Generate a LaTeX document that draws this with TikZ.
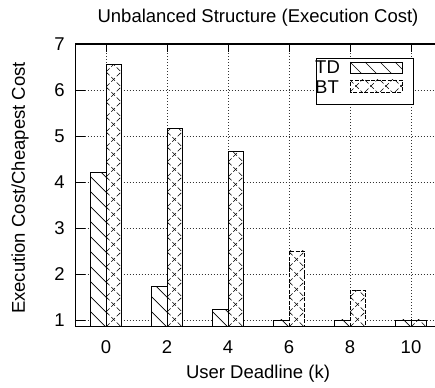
\documentclass[tikz,border=0pt]{standalone}
\usepackage{fontspec}
\setmainfont{Liberation Sans}
\tikzset{
  gridline/.style={line width=0.7pt, dash pattern=on 1pt off 2pt, black!80},
  frameline/.style={line width=1.2pt},
  barline/.style={line width=0.9pt},
  dashbar/.style={line width=0.9pt, dash pattern=on 4pt off 1.5pt},
  hatch/.style={line width=0.6pt},
  xhatch/.style={line width=0.55pt, dash pattern=on 5pt off 2.5pt},
  lbl/.style={font=\fontsize{18.5}{21}\selectfont, inner sep=0pt},
}
\newcommand\tdbar[2]{%
  \begin{scope}[shift={(#1-0.5,0.85)}, x=1pt, y=1pt]
    \pgfmathsetmacro\barH{(#2-0.85)*46}
    \fill[white] (0,0) rectangle (15.25,\barH);
    \begin{scope}
      \clip (0,0) rectangle (15.25,\barH);
      \foreach \i in {0,...,20} \draw[hatch] (0,\i*15) -- ++(20,-20);
    \end{scope}
    \draw[barline] (0,0) rectangle (15.25,\barH);
  \end{scope}}
\newcommand\btbar[3]{%
  \begin{scope}[shift={(#1,0.85)}, x=1pt, y=1pt]
    \pgfmathsetmacro\barH{(#2-0.85)*46}
    \fill[white] (0,0) rectangle (15.25,\barH);
    \begin{scope}
      \clip (0,0) rectangle (15.25,\barH);
      \foreach \i in {0,...,20} {
        \draw[xhatch] (0,\i*15) -- ++(15.25,-15);
        \draw[xhatch] (0,\i*15) -- ++(15.25,15);
      }
    \end{scope}
    \draw[#3] (0,0) rectangle (15.25,\barH);
  \end{scope}}
\begin{document}
\begin{tikzpicture}[x=1pt,y=1pt]
\useasboundingbox (0,0) rectangle (435,387);
\clip (0,0) rectangle (435,387);
\fill[white] (0,0) rectangle (435,387);
\begin{scope}[shift={(106,21)}, x=30.5pt, y=46pt]
  % grid
  \foreach \v in {1,...,6} \draw[gridline] (-1,\v) -- (11,\v);
  \foreach \k in {0,2,...,10} \draw[gridline] (\k,0.85) -- (\k,7);
  % ticks and labels
  \foreach \v in {1,...,7} {
    \draw[barline] (-1,\v) -- ++(9pt,0);
    \node[lbl] (y\v) at ([xshift=-16pt]-1,\v) {\v};
  }
  \foreach \k in {0,2,...,10} {
    \draw[barline] (\k,7) -- ++(0,-8pt);
    \draw[barline] (\k,0.85) -- ++(0,8pt);
    \node[lbl] (x\k) at ([yshift=-20pt]\k,0.85) {\k};
  }
  % bars
  \tdbar{0}{4.2}   \btbar{0}{6.55}{barline}
  \tdbar{2}{1.72}  \btbar{2}{5.16}{barline}
  \tdbar{4}{1.22}  \btbar{4}{4.67}{barline}
  \tdbar{6}{1.0}   \btbar{6}{2.5}{dashbar}
  \tdbar{8}{1.0}   \btbar{8}{1.65}{dashbar}
  \tdbar{10}{1.0}  \btbar{10}{1.0}{barline}
  % frame
  \draw[frameline] (-1,0.85) rectangle (11,7);
\end{scope}
% legend
\draw[barline, fill=white] (316,329) rectangle (413,283);
\node[lbl, anchor=west] (lTD) at (315,320) {TD};
\node[lbl, anchor=west] (lBT) at (315,300) {BT};
\begin{scope}
  \clip (350,314) rectangle (402,325);
  \foreach \i in {0,...,5} \draw[hatch] (350+\i*15,325) -- ++(15,-15);
\end{scope}
\draw[barline] (350,314) rectangle (402,325);
\begin{scope}
  \clip (350,295) rectangle (402,307);
  \foreach \i in {0,...,5} {
    \draw[xhatch] (350+\i*15,307) -- ++(15,-15);
    \draw[xhatch] (350+\i*15,295) -- ++(15,15);
  }
\end{scope}
\draw[dashbar] (350,295) rectangle (402,307);
% titles
\node[lbl] (title) at (258,369) {Unbalanced Structure (Execution Cost)};
\node[lbl] (xlab) at (258,13) {User Deadline (k)};
\node[lbl, rotate=90] (ylab) at (20,199) {Execution Cost/Cheapest Cost};
\end{tikzpicture}
\end{document}
